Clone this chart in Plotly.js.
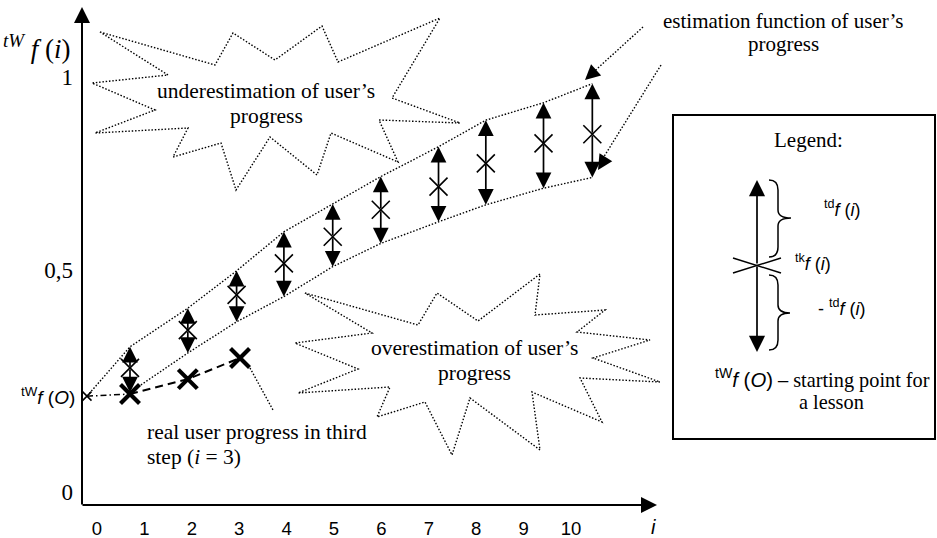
<!DOCTYPE html>
<html>
<head>
<meta charset="utf-8">
<script src="https://cdn.plot.ly/plotly-3.0.1.min.js"></script>
<style>html,body{margin:0;padding:0;background:#fff;}#chart{width:937px;height:538px;}</style>
</head>
<body>
<div id="chart"></div>
<script>
// ---- data ----
const xTickVals = [0,1,2,3,4,5,6,7,8,9,10];
const xTickText = ['0','1','2','3','4','5','6','7','8','9','10'];
const yTickVals = [0, 0.535, 1];
const yTickText = ['0','0,5','1'];

// estimation steps i = 1..10
const stepX     = [0.696,1.916,2.945,3.943,4.973,5.987,7.205,8.203,9.420,10.450];
const estCenter = [0.299,0.390,0.475,0.551,0.615,0.680,0.736,0.792,0.840,0.862];
const estUpper  = [0.350,0.443,0.533,0.627,0.694,0.760,0.832,0.896,0.938,0.984];
const estLower  = [0.240,0.335,0.410,0.471,0.543,0.599,0.651,0.692,0.732,0.758];

// starting point tW f(0)
const startX = [-0.211];
const startY = [0.231];

// real user progress
const realX = [0.696, 1.916, 3.017];
const realY = [0.236, 0.272, 0.323];

// ---- helpers (pixel -> paper) ----
const W = 937, H = 538;
const PX = x => x / W;
const PY = y => 1 - y / H;
function polyPath(pts, close) {
  let s = pts.map((p, k) => (k ? 'L' : 'M') + PX(p[0]).toFixed(5) + ',' + PY(p[1]).toFixed(5)).join(' ');
  return close ? s + ' Z' : s;
}

const underStar = [[100,32],[215,65],[233,33],[275,60],[322,26],[338,62],[440,18],[392,98],[460,123],[379,120],[398,162],[331,133],[317,175],[270,137],[236,190],[221,143],[173,157],[188,128],[95,133],[155,110],[92,83],[168,75]];
const overStar = [[305,293],[418,325],[437,293],[478,321],[540,274],[535,315],[605,310],[577,332],[650,340],[593,358],[660,382],[580,378],[602,422],[532,392],[540,450],[470,398],[452,455],[425,402],[377,417],[390,387],[298,393],[358,369],[295,343],[372,333]];

const dotLine = {color:'#000', width:1.4, dash:'1.5px,1.8px'};

const traces = [
  {x: startX.concat(stepX), y: startY.concat(estUpper), mode:'lines', line:dotLine, hoverinfo:'skip'},
  {x: stepX, y: estLower, mode:'lines', line:dotLine, hoverinfo:'skip'},
  {x: startX.concat(realX.slice(0,1)), y: startY.concat(realY.slice(0,1)), mode:'lines', line:{color:'#000', width:1.5, dash:'6px,3px,1.5px,3px'}, hoverinfo:'skip'},
  {x: realX, y: realY, mode:'lines', line:{color:'#000', width:2, dash:'8px,5px'}, hoverinfo:'skip'},
  {x: realX, y: realY, mode:'markers', marker:{symbol:'x-thin', size:19, line:{color:'#000', width:4.2}}, hoverinfo:'skip'},
  {x: startX, y: startY, mode:'markers', marker:{symbol:'x-thin', size:9, line:{color:'#000', width:1.5}}, hoverinfo:'skip'},
  {x: stepX, y: estCenter, mode:'markers', marker:{symbol:'x-thin', size:18, line:{color:'#000', width:1.6}}, hoverinfo:'skip'}
];

const annotations = [];
stepX.forEach((x, k) => {
  [estUpper[k], estLower[k]].forEach(yt => {
    annotations.push({x:x, y:yt, xref:'x', yref:'y', ax:x, ay:estCenter[k], axref:'x', ayref:'y',
      text:'', showarrow:true, arrowhead:2, arrowwidth:1.7, arrowsize:1.85, arrowcolor:'#000', standoff:0});
  });
});

// axes arrows
annotations.push({x:PX(82), y:PY(7), xref:'paper', yref:'paper', ax:0, ay:499, text:'', showarrow:true, arrowhead:2, arrowwidth:2, arrowsize:1.6, arrowcolor:'#000'});
annotations.push({x:PX(657), y:PY(505), xref:'paper', yref:'paper', ax:-576, ay:0, text:'', showarrow:true, arrowhead:2, arrowwidth:2, arrowsize:1.6, arrowcolor:'#000'});

// callout arrowheads for estimation function
annotations.push({x:PX(585), y:PY(80), xref:'paper', yref:'paper', ax:11, ay:-10, text:'', showarrow:true, arrowhead:2, arrowwidth:1.5, arrowsize:2, arrowcolor:'#000'});
annotations.push({x:PX(598), y:PY(170), xref:'paper', yref:'paper', ax:8, ay:-13, text:'', showarrow:true, arrowhead:2, arrowwidth:1.5, arrowsize:2, arrowcolor:'#000'});

function txt(x, y, text, opts) {
  return Object.assign({x:PX(x), y:PY(y), xref:'paper', yref:'paper', text:text, showarrow:false,
    font:{family:'Liberation Serif', size:21.5, color:'#000'}, xanchor:'center', yanchor:'middle'}, opts || {});
}
const sans = {family:'Liberation Sans', size:18, color:'#000'};

annotations.push(txt(266, 91, "underestimation of user’s"));
annotations.push(txt(266, 116, "progress"));
annotations.push(txt(475, 348, "overestimation of user’s"));
annotations.push(txt(475, 373, "progress"));
annotations.push(txt(783, 21, "estimation function of user’s", {font:{family:'Liberation Serif', size:21, color:'#000'}}));
annotations.push(txt(783, 44, "progress", {font:{family:'Liberation Serif', size:21, color:'#000'}}));
annotations.push(txt(145, 432, "real user progress in third", {xanchor:'left'}));
annotations.push(txt(145, 457, "step (<i>i</i> = 3)", {xanchor:'left'}));
annotations.push(txt(73, 47, "<sup><i>tW</i></sup> <i>f</i> (<i>i</i>)", {xanchor:'right', font:{family:'Liberation Serif', size:27, color:'#000'}}));
annotations.push(txt(77, 396, "<sup>tW</sup><i>f</i> (<i>O</i>)", {xanchor:'right', font:{family:'Liberation Sans', size:19, color:'#000'}}));
annotations.push(txt(653, 527, "<i>i</i>", {font:{family:'Liberation Sans', size:20, color:'#000'}}));

// legend texts
annotations.push(txt(808, 140, "Legend:", {font:{family:'Liberation Serif', size:21, color:'#000'}}));
annotations.push(txt(822, 208, "<sup>td</sup><i>f</i> (<i>i</i>)", {xanchor:'left', font:sans}));
annotations.push(txt(793, 262, "<sup>tk</sup><i>f</i> (<i>i</i>)", {xanchor:'left', font:sans}));
annotations.push(txt(816, 307, "- <sup>td</sup><i>f</i> (<i>i</i>)", {xanchor:'left', font:sans}));
annotations.push(txt(822, 378, "<span style=\"font-family:'Liberation Sans'\"><sup>tW</sup><i>f</i> (<i>O</i>)</span> – starting point for", {font:{family:'Liberation Serif', size:20.3, color:'#000'}}));
annotations.push(txt(831, 402, "a lesson", {font:{family:'Liberation Serif', size:20.3, color:'#000'}}));

// shapes
const shapes = [];
shapes.push({type:'path', xref:'paper', yref:'paper', path:polyPath(underStar, true), line:dotLine});
shapes.push({type:'path', xref:'paper', yref:'paper', path:polyPath(overStar, true), line:dotLine});
shapes.push({type:'path', xref:'paper', yref:'paper', path:polyPath([[643,27],[588,77]], false), line:dotLine});
shapes.push({type:'path', xref:'paper', yref:'paper', path:polyPath([[661,65],[600,163]], false), line:dotLine});
shapes.push({type:'path', xref:'paper', yref:'paper', path:polyPath([[250,368],[273,410]], false), line:dotLine});
// legend box
shapes.push({type:'rect', xref:'paper', yref:'paper', x0:PX(673), x1:PX(935), y0:PY(439), y1:PY(115), line:{color:'#000', width:2}});
// legend arrow shaft & heads
annotations.push({x:PX(757), y:PY(180), xref:'paper', yref:'paper', ax:0, ay:85, text:'', showarrow:true, arrowhead:2, arrowwidth:1.7, arrowsize:1.9, arrowcolor:'#000'});
annotations.push({x:PX(757), y:PY(352), xref:'paper', yref:'paper', ax:0, ay:-87, text:'', showarrow:true, arrowhead:2, arrowwidth:1.7, arrowsize:1.9, arrowcolor:'#000'});
// legend cross
shapes.push({type:'line', xref:'paper', yref:'paper', x0:PX(733), y0:PY(258), x1:PX(781), y1:PY(273), line:{color:'#000', width:1.5}});
shapes.push({type:'line', xref:'paper', yref:'paper', x0:PX(733), y0:PY(273), x1:PX(781), y1:PY(258), line:{color:'#000', width:1.5}});
// braces
function bracePath(x0, xs, xp, yTop, yMid, yBot) {
  const c = (x,y) => PX(x).toFixed(5) + ',' + PY(y).toFixed(5);
  return 'M' + c(x0,yTop) + ' Q' + c(xs,yTop) + ' ' + c(xs,yTop+10) +
    ' L' + c(xs,yMid-8) + ' Q' + c(xs,yMid) + ' ' + c(xp,yMid) +
    ' Q' + c(xs,yMid) + ' ' + c(xs,yMid+8) +
    ' L' + c(xs,yBot-10) + ' Q' + c(xs,yBot) + ' ' + c(x0,yBot);
}
shapes.push({type:'path', xref:'paper', yref:'paper', path:bracePath(769,778,791,180,218,257), line:{color:'#000', width:1.5}});
shapes.push({type:'path', xref:'paper', yref:'paper', path:bracePath(769,778,790,275,313,350), line:{color:'#000', width:1.5}});

const layout = {
  width: W, height: H,
  margin:{l:0, r:0, t:0, b:0},
  paper_bgcolor:'#fff', plot_bgcolor:'rgba(0,0,0,0)',
  showlegend:false,
  xaxis:{range:[-97/47.4, (937-97)/47.4], domain:[0,1], anchor:'free', position:33/538,
    showgrid:false, zeroline:false, showline:false, ticks:'', tickvals:xTickVals, ticktext:xTickText,
    tickfont:{family:'Liberation Sans', size:18.5, color:'#000'}, ticklabelstandoff:10, fixedrange:true},
  yaxis:{range:[(492-538)/415, 492/415], domain:[0,1], anchor:'free', position:82/937,
    showgrid:false, zeroline:false, showline:false, ticks:'', tickvals:yTickVals, ticktext:yTickText,
    tickfont:{family:'Liberation Serif', size:23, color:'#000'}, ticklabelstandoff:9, fixedrange:true},
  shapes: shapes,
  annotations: annotations
};

Plotly.newPlot('chart', traces, layout, {staticPlot:true, displayModeBar:false});
</script>
</body>
</html>
